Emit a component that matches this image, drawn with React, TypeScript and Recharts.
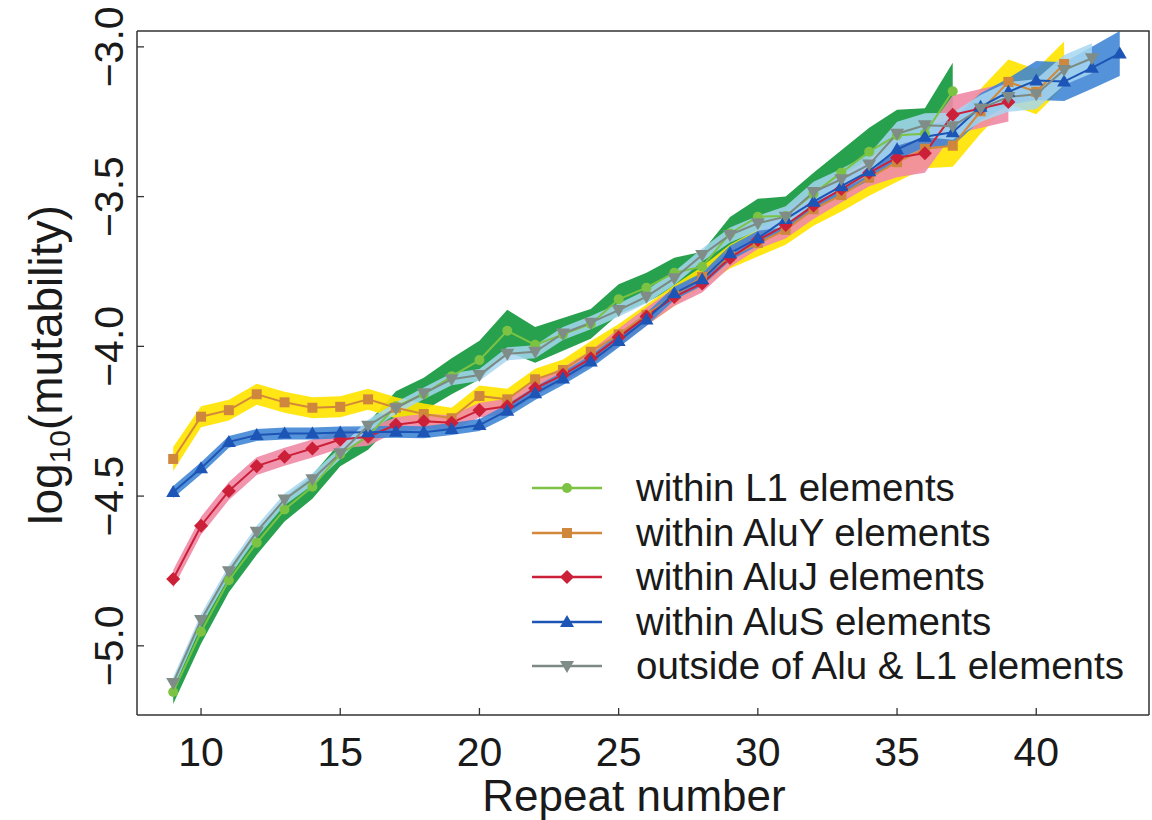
import React from 'react';
import { ComposedChart, Line, Area, XAxis, YAxis, Legend } from 'recharts';

const repeats = [9, 10, 11, 12, 13, 14, 15, 16, 17, 18, 19, 20, 21, 22, 23, 24, 25, 26, 27, 28, 29, 30, 31, 32, 33, 34, 35, 36, 37, 38, 39, 40, 41, 42, 43];

const l1 = [-5.154, -4.953, -4.781, -4.656, -4.545, -4.469, -4.36, -4.3, -4.2, -4.16, -4.1, -4.046, -3.948, -3.995, -3.96, -3.925, -3.843, -3.804, -3.754, -3.734, -3.623, -3.567, -3.565, -3.49, -3.42, -3.35, -3.295, -3.29, -3.148];
const l1Err = [0.04, 0.04, 0.04, 0.04, 0.04, 0.04, 0.04, 0.045, 0.05, 0.055, 0.06, 0.065, 0.07, 0.06, 0.055, 0.05, 0.05, 0.05, 0.05, 0.05, 0.055, 0.06, 0.065, 0.07, 0.075, 0.08, 0.085, 0.085, 0.095];

const aluY = [-4.376, -4.235, -4.213, -4.16, -4.187, -4.205, -4.202, -4.177, -4.205, -4.226, -4.24, -4.166, -4.177, -4.11, -4.079, -4.018, -3.96, -3.895, -3.83, -3.768, -3.7, -3.655, -3.611, -3.542, -3.495, -3.437, -3.385, -3.34, -3.33, -3.215, -3.117, -3.15, -3.057];
const aluYErr = [0.04, 0.035, 0.035, 0.035, 0.035, 0.035, 0.035, 0.035, 0.035, 0.035, 0.035, 0.035, 0.035, 0.035, 0.035, 0.035, 0.035, 0.035, 0.035, 0.035, 0.04, 0.045, 0.05, 0.055, 0.055, 0.06, 0.065, 0.065, 0.07, 0.075, 0.075, 0.075, 0.075];

const aluJ = [-4.777, -4.599, -4.483, -4.4, -4.369, -4.341, -4.311, -4.302, -4.262, -4.25, -4.255, -4.213, -4.2, -4.14, -4.095, -4.04, -3.97, -3.9, -3.835, -3.79, -3.705, -3.645, -3.595, -3.53, -3.475, -3.42, -3.37, -3.355, -3.227, -3.206, -3.184];
const aluJErr = [0.03, 0.03, 0.03, 0.03, 0.03, 0.03, 0.03, 0.03, 0.025, 0.025, 0.025, 0.025, 0.025, 0.025, 0.025, 0.025, 0.03, 0.03, 0.03, 0.03, 0.03, 0.03, 0.045, 0.045, 0.045, 0.045, 0.065, 0.065, 0.065, 0.065, 0.065];

const aluS = [-4.486, -4.407, -4.319, -4.296, -4.291, -4.291, -4.288, -4.287, -4.285, -4.287, -4.276, -4.263, -4.215, -4.157, -4.107, -4.051, -3.982, -3.91, -3.823, -3.776, -3.689, -3.639, -3.575, -3.517, -3.465, -3.415, -3.342, -3.3, -3.285, -3.2, -3.15, -3.112, -3.116, -3.07, -3.022];
const aluSErr = [0.02, 0.02, 0.02, 0.02, 0.02, 0.02, 0.02, 0.02, 0.02, 0.02, 0.02, 0.02, 0.022, 0.022, 0.022, 0.022, 0.022, 0.022, 0.022, 0.022, 0.025, 0.025, 0.03, 0.03, 0.03, 0.03, 0.035, 0.035, 0.045, 0.045, 0.045, 0.065, 0.065, 0.07, 0.075];

const outside = [-5.124, -4.914, -4.751, -4.619, -4.511, -4.444, -4.357, -4.265, -4.207, -4.157, -4.11, -4.096, -4.025, -4.018, -3.957, -3.921, -3.879, -3.834, -3.773, -3.695, -3.628, -3.589, -3.567, -3.485, -3.442, -3.393, -3.29, -3.262, -3.265, -3.206, -3.167, -3.158, -3.077, -3.038];
const outsideErr = [0.02, 0.02, 0.02, 0.02, 0.02, 0.02, 0.02, 0.02, 0.02, 0.02, 0.02, 0.02, 0.022, 0.022, 0.022, 0.022, 0.022, 0.022, 0.022, 0.022, 0.025, 0.025, 0.035, 0.035, 0.035, 0.035, 0.04, 0.04, 0.045, 0.045, 0.05, 0.05, 0.05, 0.05];

const xTicks = [10, 15, 20, 25, 30, 35, 40];
const yTicks = [-5.0, -4.5, -4.0, -3.5, -3.0];

const seriesLabels = [
  'within L1 elements',
  'within AluY elements',
  'within AluJ elements',
  'within AluS elements',
  'outside of Alu & L1 elements',
];

const band = (v: number[], e: number[], i: number) =>
  v[i] === undefined ? undefined : [v[i] - e[i], v[i] + e[i]];

const data = repeats.map((r, i) => ({
  r,
  l1: l1[i],
  l1Band: band(l1, l1Err, i),
  aluY: aluY[i],
  aluYBand: band(aluY, aluYErr, i),
  aluJ: aluJ[i],
  aluJBand: band(aluJ, aluJErr, i),
  aluS: aluS[i],
  aluSBand: band(aluS, aluSErr, i),
  outside: outside[i],
  outsideBand: band(outside, outsideErr, i),
}));

const FONT = "'Liberation Sans', Arial, Helvetica, sans-serif";
const X_DOMAIN: [number, number] = [7.7, 44.05];
const Y_DOMAIN: [number, number] = [-5.231, -2.947];
const CHART_W = 1152;
const CHART_H = 820;
const MARGIN = { top: 31, right: 3, left: 37, bottom: 5 };
const Y_AXIS_W = 100;
const X_AXIS_H = 100;

type Shape = 'circle' | 'square' | 'diamond' | 'up' | 'down';

const MarkerShape = ({ cx, cy, shape, color }: { cx: number; cy: number; shape: Shape; color: string }) => {
  if (cx == null || cy == null || isNaN(cx) || isNaN(cy)) return <g />;
  if (shape === 'circle') return <circle cx={cx} cy={cy} r={5} fill={color} />;
  if (shape === 'square') return <rect x={cx - 5} y={cy - 5} width={10} height={10} fill={color} />;
  if (shape === 'diamond')
    return <polygon points={`${cx},${cy - 7} ${cx + 7},${cy} ${cx},${cy + 7} ${cx - 7},${cy}`} fill={color} />;
  if (shape === 'up')
    return <polygon points={`${cx},${cy - 7} ${cx + 7},${cy + 5} ${cx - 7},${cy + 5}`} fill={color} />;
  return <polygon points={`${cx},${cy + 7} ${cx + 7},${cy - 5} ${cx - 7},${cy - 5}`} fill={color} />;
};

const makeDot = (shape: Shape, color: string) => (props: any) => (
  <MarkerShape key={props.key ?? `${shape}-${props.index}`} cx={props.cx} cy={props.cy} shape={shape} color={color} />
);

const series = [
  { key: 'l1', band: 'l1Band', bandColor: '#15993f', bandOpacity: 0.92, line: '#7cc243', marker: '#7cc243', shape: 'circle' as Shape },
  { key: 'aluY', band: 'aluYBand', bandColor: '#ffe400', bandOpacity: 0.92, line: '#d4893a', marker: '#cf873d', shape: 'square' as Shape },
  { key: 'aluJ', band: 'aluJBand', bandColor: '#ef8aa6', bandOpacity: 0.9, line: '#cc1f38', marker: '#cc1f38', shape: 'diamond' as Shape },
  { key: 'aluS', band: 'aluSBand', bandColor: '#3c84d4', bandOpacity: 0.88, line: '#1c55b5', marker: '#1c55b5', shape: 'up' as Shape },
  { key: 'outside', band: 'outsideBand', bandColor: '#a7d7f1', bandOpacity: 0.85, line: '#7c8a83', marker: '#7f8c87', shape: 'down' as Shape },
];

const XTick = (props: any) => {
  const { x, y, payload } = props;
  return (
    <g>
      <line x1={x} x2={x} y1={y} y2={y - 7} stroke="#333" strokeWidth={1.3} />
      <text x={x} y={y + 51} textAnchor="middle" fontSize={41} fontFamily={FONT} fill="#1a1a1a">
        {payload.value}
      </text>
    </g>
  );
};

const fmtY = (v: number) => (v < 0 ? '\u2212' : '') + Math.abs(v).toFixed(1);

const YTick = (props: any) => {
  const { x, y, payload } = props;
  const bx = x - 14;
  return (
    <g>
      <line x1={x} x2={x + 7} y1={y} y2={y} stroke="#333" strokeWidth={1.3} />
      <text
        x={bx}
        y={y}
        transform={`rotate(-90, ${bx}, ${y})`}
        textAnchor="middle"
        fontSize={41}
        fontFamily={FONT}
        fill="#1a1a1a"
      >
        {fmtY(payload.value)}
      </text>
    </g>
  );
};

const XTitle = (props: any) => {
  const vb = props.viewBox || { x: MARGIN.left + Y_AXIS_W, y: CHART_H - MARGIN.bottom - X_AXIS_H, width: CHART_W - MARGIN.left - Y_AXIS_W - MARGIN.right };
  const cx = vb.x + vb.width / 2 - 9;
  return (
    <text x={cx} y={vb.y + 96} textAnchor="middle" fontSize={44} fontFamily={FONT} fill="#1a1a1a">
      Repeat number
    </text>
  );
};

// Y title, plus the top and right sides of the plot frame (derived from the y-axis box and chart layout)
const YTitle = (props: any) => {
  const vb = props.viewBox || {
    x: MARGIN.left,
    y: MARGIN.top,
    width: Y_AXIS_W,
    height: CHART_H - MARGIN.top - MARGIN.bottom - X_AXIS_H,
  };
  const left = vb.x + vb.width;
  const top = vb.y;
  const bottom = vb.y + vb.height;
  const right = CHART_W - MARGIN.right;
  const x = 62;
  const y = 365;
  return (
    <g>
      <path d={`M${left},${top} L${right},${top} L${right},${bottom}`} fill="none" stroke="#333" strokeWidth={1.5} />
      <text x={x} y={y} transform={`rotate(-90, ${x}, ${y})`} textAnchor="middle" fontSize={46} fontFamily={FONT} fill="#1a1a1a">
        log
        <tspan fontSize={30} dy={8}>10</tspan>
        <tspan dy={-8}>(mutability)</tspan>
      </text>
    </g>
  );
};

const LegendContent = () => (
  <div style={{ fontFamily: FONT, fontSize: 38.5, color: '#1a1a1a' }}>
    {series.map((s, i) => (
      <div key={s.key} style={{ display: 'flex', alignItems: 'center', height: 44.5, lineHeight: '44.5px', whiteSpace: 'nowrap' }}>
        <svg width={111} height={24} style={{ flex: 'none' }}>
          <line x1={7} x2={77} y1={12} y2={12} stroke={s.line} strokeWidth={2.5} />
          <MarkerShape cx={42} cy={12} shape={s.shape} color={s.marker} />
        </svg>
        <span>{seriesLabels[i]}</span>
      </div>
    ))}
  </div>
);

export default function App() {
  return (
    <div style={{ position: 'absolute', left: 0, top: 0, width: CHART_W, height: CHART_H, background: '#fff' }}>
      <ComposedChart width={CHART_W} height={CHART_H} data={data} margin={MARGIN}>
        <XAxis
          dataKey="r"
          type="number"
          domain={X_DOMAIN}
          allowDataOverflow
          ticks={xTicks}
          tick={<XTick />}
          tickLine={false}
          tickSize={0}
          tickMargin={0}
          height={X_AXIS_H}
          axisLine={{ stroke: '#333', strokeWidth: 1.5 }}
          label={<XTitle />}
        />
        <YAxis
          type="number"
          domain={Y_DOMAIN}
          allowDataOverflow
          ticks={yTicks}
          tick={<YTick />}
          tickLine={false}
          tickSize={0}
          tickMargin={0}
          width={Y_AXIS_W}
          axisLine={{ stroke: '#333', strokeWidth: 1.5 }}
          label={<YTitle />}
        />
        {series.map((s) => (
          <Area
            key={s.band}
            type="linear"
            dataKey={s.band}
            stroke="none"
            fill={s.bandColor}
            fillOpacity={s.bandOpacity}
            isAnimationActive={false}
            legendType="none"
            activeDot={false}
          />
        ))}
        {series.map((s) => (
          <Line
            key={s.key}
            type="linear"
            dataKey={s.key}
            stroke={s.line}
            strokeWidth={2}
            dot={makeDot(s.shape, s.marker)}
            activeDot={false}
            isAnimationActive={false}
          />
        ))}
        <Legend
          layout="vertical"
          align="center"
          verticalAlign="middle"
          content={<LegendContent />}
          wrapperStyle={{ left: 525, top: 466, width: 624 }}
        />
      </ComposedChart>
    </div>
  );
}
